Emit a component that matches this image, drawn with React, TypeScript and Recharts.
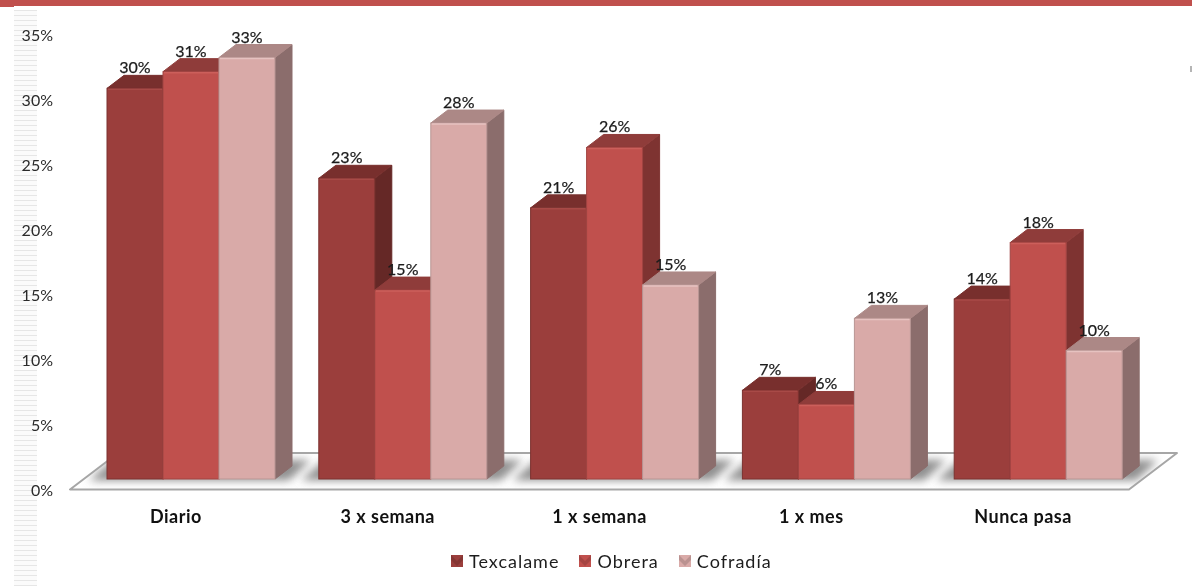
import React from "react";
import { ComposedChart, Bar, Line, XAxis, YAxis, Legend, LabelList, ReferenceArea } from "recharts";

const categories = ["Diario", "3 x semana", "1 x semana", "1 x mes", "Nunca pasa"];
const texcalame = [30.4, 23.4, 21.1, 6.9, 14.0];
const obrera = [31.7, 14.7, 25.8, 5.8, 18.4];
const cofradia = [32.8, 27.7, 15.1, 12.5, 10.0];
const texcalameLabels = ["30%", "23%", "21%", "7%", "14%"];
const obreraLabels = ["31%", "15%", "26%", "6%", "18%"];
const cofradiaLabels = ["33%", "28%", "15%", "13%", "10%"];
const axisTicks = [0, 5, 10, 15, 20, 25, 30, 35];

const seriesNames = ["Texcalame", "Obrera", "Cofradía"] as const;
const labelsBySeries: Record<string, string[]> = {
  Texcalame: texcalameLabels,
  Obrera: obreraLabels,
  "Cofradía": cofradiaLabels,
};

const data = categories.map((name, i) => ({
  name,
  Texcalame: texcalame[i],
  Obrera: obrera[i],
  "Cofradía": cofradia[i],
  base: 0,
}));

const FONT = "Lato, 'Open Sans', sans-serif";
const SHIFT = 15;
const DX = 17;
const DY = 13;

const palette = {
  Texcalame: { front: "#9b3e3c", top: "#782f2d", side: "#652826", edge: "#7c3230", hi: "#a84a47" },
  Obrera: { front: "#c0504d", top: "#8f3c3a", side: "#7e3331", edge: "#a04442", hi: "#cc5f5b" },
  "Cofradía": { front: "#d9aaa8", top: "#ac8886", side: "#8b6d6c", edge: "#b99694", hi: "#e6c2c0" },
};

function Box3D(props: any, c: any) {
  const { x, y, width, height } = props;
  const l = x + SHIFT;
  const r = l + width;
  const b = y + height;
  return (
    <g>
      <polygon
        points={`${r},${y} ${r + DX},${y - DY} ${r + DX},${b - DY} ${r},${b}`}
        fill={c.side}
        stroke={c.side}
        strokeWidth={1}
        strokeLinejoin="round"
      />
      <polygon
        points={`${l},${y} ${l + DX},${y - DY} ${r + DX},${y - DY} ${r},${y}`}
        fill={c.top}
        stroke={c.top}
        strokeWidth={1}
        strokeLinejoin="round"
      />
      <rect x={l} y={y} width={width} height={height} fill={c.front} stroke={c.edge} strokeWidth={1} />
      <line x1={l + 1} x2={r - 1} y1={y + 1} y2={y + 1} stroke={c.hi} strokeWidth={1.5} />
    </g>
  );
}

function Floor(props: any) {
  const { x, y, width, height } = props;
  const front = y + height + 0.5;
  const skew = 48;
  const band = width / categories.length;
  const pts = `${x},${front} ${x + width},${front} ${x + width + skew},${y} ${x + skew},${y}`;
  return (
    <g>
      <defs>
        <filter id="floorBlur" x="-30%" y="-60%" width="160%" height="220%">
          <feGaussianBlur stdDeviation="4" />
        </filter>
        <clipPath id="floorClip">
          <polygon points={pts} />
        </clipPath>
      </defs>
      <polygon points={pts} fill="#ffffff" />
      <g clipPath="url(#floorClip)">
        {categories.map((c, i) => {
          const cx = x + band * i + band / 2 + SHIFT;
          return (
            <polygon
              key={c}
              points={`${cx - 102},${front - 9} ${cx + 98},${front - 9} ${cx + 120},${y + 7} ${cx - 78},${y + 7}`}
              fill="#909090"
              filter="url(#floorBlur)"
            />
          );
        })}
      </g>
      <polygon points={pts} fill="none" stroke="#a6a6a6" strokeWidth={2} strokeLinejoin="round" />
    </g>
  );
}

const makeBarLabel = (labels: string[]) => (props: any) => {
  const { x, y, width, index } = props;
  return (
    <text
      x={x + SHIFT + width / 2}
      y={y - 15}
      textAnchor="middle"
      fontFamily={FONT}
      fontSize={16}
      fill="#1c1c1c"
      stroke="#1c1c1c"
      strokeWidth={0.25}
    >
      {labels[index]}
    </text>
  );
};

function LegendMarker({ color }: { color: string }) {
  return (
    <svg width={12} height={12} style={{ display: "block" }}>
      <rect width={12} height={12} fill={color} />
      <polygon points="0,0 6,6 12,0 12,5 6,11 0,5" fill="#000" opacity={0.14} />
    </svg>
  );
}

function LegendContent(props: any) {
  const payload = (props.payload || [])
    .filter((p: any) => seriesNames.includes(p.value))
    .slice()
    .sort((a: any, b: any) => seriesNames.indexOf(a.value) - seriesNames.indexOf(b.value));
  return (
    <div style={{ display: "flex", alignItems: "center", fontFamily: FONT, fontSize: 18, color: "#1c1c1c" }}>
      {payload.map((p: any) => (
        <div key={p.value} style={{ display: "flex", alignItems: "center", marginRight: 20 }}>
          <LegendMarker color={p.color} />
          <span style={{ marginLeft: 6, letterSpacing: 1 }}>{p.value}</span>
        </div>
      ))}
    </div>
  );
}

export default function App() {
  return (
    <div style={{ position: "absolute", left: 0, top: 0, width: 1192, height: 586, background: "#fff", overflow: "hidden" }}>
      <div style={{ position: "absolute", left: 14, top: 10, width: 23, height: 576, backgroundImage: "repeating-linear-gradient(to bottom, #e6e6e6 0 1.4px, #fbfbfb 1.4px 5px)" }} />
      <div style={{ position: "absolute", left: 0, top: 0, width: 1192, height: 6, background: "#c0504d" }} />
      <div style={{ position: "absolute", left: 0, top: 0, width: 14, height: 7, background: "#c0504d" }} />
      <div style={{ position: "absolute", left: 1190, top: 66, width: 2, height: 6, background: "#b5b5b5" }} />
      <div style={{ position: "absolute", left: 0, top: 0, filter: "blur(0.35px)" }}>
        <ComposedChart
          width={1192}
          height={586}
          data={data}
          margin={{ top: 34, right: 63, left: 0, bottom: 0 }}
          barSize={56}
          barGap={0}
          style={{ background: "transparent" }}
        >
          <XAxis
            dataKey="name"
            height={97}
            axisLine={false}
            tickLine={false}
            tickMargin={15}
            interval={0}
            tick={{ fontFamily: FONT, fontSize: 18, fontWeight: 700, fill: "#111111", letterSpacing: 0.5 }}
          />
          <YAxis
            yAxisId="labels"
            width={70}
            domain={[0, 35]}
            ticks={axisTicks}
            axisLine={false}
            tickLine={false}
            tickSize={0}
            tickMargin={17}
            tickFormatter={(v: number) => `${v}%`}
            tick={{ fontFamily: FONT, fontSize: 16, fill: "#2a2a2a", dy: 1 }}
          />
          <YAxis yAxisId="bars" hide width={0} domain={[-0.778, 34.63]} />
          <ReferenceArea yAxisId="labels" y1={0} y2={2.77} shape={Floor} />
          <Legend
            verticalAlign="middle"
            layout="horizontal"
            itemSorter={null}
            wrapperStyle={{ left: 451, top: 550, width: 360, bottom: "auto", right: "auto" }}
            content={LegendContent}
          />
          <Line
            yAxisId="labels"
            dataKey="base"
            legendType="none"
            stroke="none"
            dot={false}
            activeDot={false}
            isAnimationActive={false}
          />
          {seriesNames.map((s) => (
            <Bar
              key={s}
              yAxisId="bars"
              dataKey={s}
              name={s}
              fill={palette[s].front}
              isAnimationActive={false}
              shape={(p: any) => Box3D(p, palette[s])}
            >
              <LabelList dataKey={s} content={makeBarLabel(labelsBySeries[s])} />
            </Bar>
          ))}
        </ComposedChart>
      </div>
    </div>
  );
}
